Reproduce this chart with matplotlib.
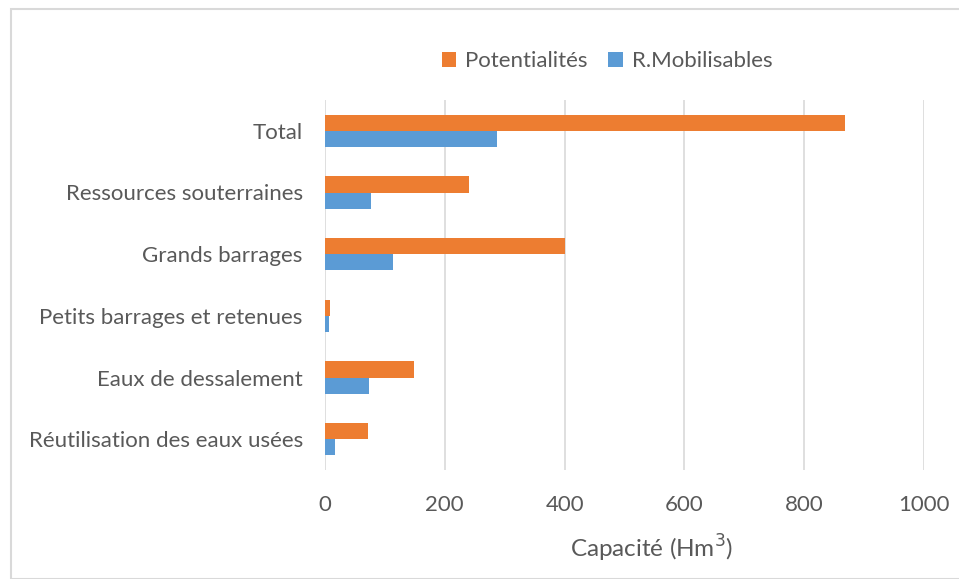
import matplotlib
matplotlib.use("Agg")
import matplotlib.pyplot as plt
from matplotlib.patches import Rectangle
import numpy as np

categories = [
    "Total",
    "Ressources souterraines",
    "Grands barrages",
    "Petits barrages et retenues",
    "Eaux de dessalement",
    "Réutilisation des eaux usées",
]
potentialites = [868, 241, 400, 8, 148, 71]
mobilisables = [287, 77, 114, 7, 73, 16]
x_ticks = [0, 200, 400, 600, 800, 1000]

ORANGE = "#ED7D31"
BLUE = "#5B9BD5"
TEXT = "#595959"
GRID = "#D9D9D9"

plt.rcParams["font.family"] = ["Lato", "DejaVu Sans"]

fig = plt.figure(figsize=(9.59, 5.79), dpi=100)
W, H = 959, 579

# chart frame
fig.patches.append(Rectangle((11 / W, 0), 1.0, 1 - 9 / H, transform=fig.transFigure,
                             fill=False, edgecolor="#D9D9D9", linewidth=1.5))

ax = fig.add_axes([325 / W, 1 - 470 / H, (924 - 325) / W, (470 - 100) / H])

n = len(categories)
y = np.arange(n)[::-1].astype(float)
bh = 0.26
ax.barh(y + bh / 2, potentialites, height=bh, color=ORANGE, label="Potentialités", zorder=3)
ax.barh(y - bh / 2, mobilisables, height=bh, color=BLUE, label="R.Mobilisables", zorder=3)

ax.set_xlim(0, 1000)
ax.set_ylim(-0.5, n - 0.5)
ax.set_xticks(x_ticks)
ax.set_xticklabels([str(t) for t in x_ticks])
ax.set_yticks(y)
ax.set_yticklabels(categories)

ax.grid(axis="x", color=GRID, linewidth=1.2, zorder=0)
for s in ax.spines.values():
    s.set_visible(False)
ax.tick_params(axis="both", length=0, colors=TEXT, labelsize=16)
ax.tick_params(axis="x", pad=18)
ax.tick_params(axis="y", pad=16)

ax.set_xlabel("Capacité (Hm$^3$)", color=TEXT, fontsize=17.5, labelpad=10)
ax.xaxis.set_label_coords(0.545, -0.17)

handles, labels = ax.get_legend_handles_labels()
fig.legend(handles=handles, labels=labels,
           loc="center", bbox_to_anchor=(607 / W, 1 - 61 / H), ncol=2,
           frameon=False, fontsize=16, handlelength=0.65, handleheight=0.65,
           handletextpad=0.4, columnspacing=0.95, labelcolor=TEXT)

fig.savefig("out.png", dpi=100)
